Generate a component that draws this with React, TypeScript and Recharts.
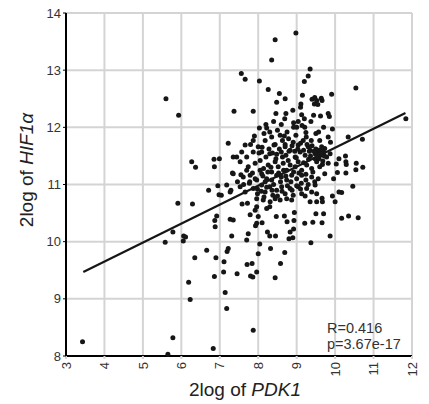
import React from 'react';
import {
  ScatterChart,
  Scatter,
  XAxis,
  YAxis,
  CartesianGrid,
  ReferenceLine,
  Customized,
} from 'recharts';

// x = 2log of PDK1, y = 2log of HIF1a
const pdk1Ticks = [3, 4, 5, 6, 7, 8, 9, 10, 11, 12];
const hif1aTicks = [8, 9, 10, 11, 12, 13, 14];

// sparse samples around the edges of the cloud
const outerSamples: [number, number][] = [
  [3.43, 8.25], [5.65, 8.03], [5.78, 8.32], [6.83, 8.13], [7.87, 8.45],
  [5.6, 12.5], [5.93, 12.21], [5.91, 10.67], [5.58, 9.99], [5.78, 10.17],
  [6.06, 10.1], [6.11, 10.08], [6.05, 10.01],
  [6.27, 11.4], [6.37, 11.3], [6.29, 10.66], [6.35, 9.72], [6.19, 9.29], [6.23, 8.99], [6.66, 9.85], [6.71, 10.9],
  [6.85, 11.44], [6.86, 11.31], [6.99, 11.45], [6.95, 10.98], [7.04, 10.81], [6.98, 10.82],
  [6.88, 10.26], [6.87, 10.37], [6.92, 10.45], [6.9, 9.72], [6.86, 9.39], [7.1, 9.47], [7.14, 9.11], [7.18, 8.83],
  [7.19, 9.83], [7.22, 9.88], [7.11, 9.65], [7.27, 10.39], [7.22, 11.72], [7.37, 12.28], [7.33, 11.2], [7.29, 10.9],
  [7.56, 12.94], [7.66, 12.84], [7.87, 12.28], [8.03, 12.81], [8.26, 12.66], [8.35, 13.18], [8.44, 13.53],
  [8.98, 13.65], [9.35, 13.02], [9.3, 12.9], [9.2, 12.8],
  [10.54, 12.69], [9.91, 12.58], [11.84, 12.15], [10.71, 11.79], [10.72, 11.3], [10.55, 11.37], [10.54, 11.26],
  [10.34, 11.83], [10.6, 10.42], [10.35, 10.45], [10.17, 10.41], [10.46, 10.97], [10.1, 10.87], [10.17, 10.86],
  [10.0, 10.7], [9.93, 10.8], [9.87, 10.1], [10.28, 11.2], [10.06, 11.21], [9.96, 11.1], [10.27, 11.5],
  [10.28, 11.4], [10.29, 11.35], [10.1, 11.45], [10.03, 11.36],
  [9.37, 9.98], [9.66, 10.33], [9.7, 10.49], [9.5, 10.49], [9.42, 10.34], [9.21, 10.32], [9.35, 10.7],
  [9.52, 10.7], [9.67, 10.7], [9.66, 10.76],
  [8.75, 10.35], [8.83, 10.17], [8.8, 10.05], [8.9, 10.07], [8.92, 10.22], [8.93, 10.37], [8.94, 10.51],
  [8.68, 10.45], [8.47, 10.44], [8.3, 10.1], [8.24, 10.17], [8.45, 10.1], [8.04, 9.96], [8.32, 9.88],
  [8.0, 9.79], [7.71, 9.6], [7.84, 9.62], [7.8, 9.4], [7.86, 9.38], [7.96, 9.47], [7.45, 9.44], [8.44, 9.37],
  [8.58, 9.62], [8.69, 9.81], [7.7, 10.03], [7.74, 10.14], [7.96, 10.32], [7.93, 10.28], [8.1, 10.33],
  [8.0, 10.44], [7.92, 10.55], [7.79, 10.47], [7.72, 10.67], [7.58, 10.66], [7.31, 10.1], [7.35, 10.38],
];

// dense core of the cloud
const coreSamples: [number, number][] = [
  [8.03, 11.99], [8.2, 12.05], [8.22, 11.99], [8.69, 12.15], [8.72, 12.24], [8.46, 12.24], [8.48, 12.44],
  [8.55, 12.59], [8.7, 12.5], [9.11, 12.41], [9.15, 12.56], [9.13, 12.22], [8.92, 12.08], [9.04, 12.1],
  [9.37, 12.1], [9.44, 12.21], [9.4, 12.49], [9.47, 12.52], [9.52, 12.47], [9.64, 12.51], [9.66, 12.47],
  [9.55, 12.4], [9.46, 12.41], [9.62, 12.2], [9.82, 12.24], [9.85, 12.19], [9.93, 11.97], [9.7, 12.0],
  [9.57, 11.92], [9.24, 11.91], [9.21, 12.0], [9.14, 12.03], [8.92, 12.0],
  [7.87, 11.77], [8.0, 11.66], [8.15, 11.89], [8.18, 11.77], [8.35, 11.83], [8.41, 11.69], [8.57, 11.86],
  [8.63, 11.77], [8.7, 11.66], [8.79, 11.8], [8.91, 11.74], [8.98, 11.86], [9.04, 11.69], [9.17, 11.77],
  [9.25, 11.83], [9.3, 11.66], [9.38, 11.77], [9.5, 11.89], [9.6, 11.77], [9.82, 11.83], [9.88, 11.74],
  [9.73, 11.63], [9.65, 11.66], [7.66, 11.69], [7.35, 11.48], [7.44, 11.48], [7.57, 11.57], [7.7, 11.48],
  [7.87, 11.57], [8.09, 11.57], [8.3, 11.54], [8.48, 11.53], [8.6, 11.57], [8.72, 11.51], [8.83, 11.6],
  [8.96, 11.48], [9.09, 11.57], [9.22, 11.51], [9.35, 11.6], [9.48, 11.54], [9.56, 11.6], [9.62, 11.51],
  [9.7, 11.57], [9.78, 11.48], [9.87, 11.54],
  [7.53, 11.4], [7.74, 11.31], [7.92, 11.37], [8.05, 11.42], [8.14, 11.28], [8.26, 11.34], [8.35, 11.22],
  [8.44, 11.4], [8.52, 11.31], [8.65, 11.37], [8.74, 11.25], [8.83, 11.34], [8.96, 11.31], [9.04, 11.4],
  [9.13, 11.25], [9.26, 11.34], [9.39, 11.28], [9.52, 11.4], [9.6, 11.31], [9.48, 11.45], [9.31, 11.44],
  [9.68, 11.41], [9.82, 11.37], [7.35, 11.19], [7.46, 11.05], [7.61, 11.13], [7.79, 11.16], [7.96, 11.08],
  [8.09, 11.19], [8.22, 11.1], [8.35, 11.08], [8.48, 11.16], [8.6, 11.13], [8.74, 11.08], [8.87, 11.16],
  [9.0, 11.1], [9.13, 11.16], [9.24, 11.08], [9.39, 11.13], [9.56, 11.1], [9.73, 11.19],
  [7.18, 10.99], [7.27, 10.87], [7.53, 10.96], [7.66, 10.87], [7.77, 11.02], [7.87, 10.93], [7.98, 10.84],
  [8.09, 10.99], [8.18, 10.87], [8.3, 10.96], [8.38, 10.81], [8.48, 10.9], [8.61, 10.96], [8.7, 10.84],
  [8.83, 10.93], [8.91, 10.81], [9.04, 10.96], [9.13, 10.84], [9.26, 10.93], [9.39, 10.87], [9.48, 10.99],
  [9.52, 10.84], [7.96, 10.75], [8.13, 10.73], [8.31, 10.7], [8.44, 10.75], [8.57, 10.73], [8.74, 10.75],
  [8.87, 10.73], [8.22, 10.58], [8.3, 10.61], [7.96, 10.61],
  [8.05, 11.25], [8.12, 11.15], [8.18, 11.05], [8.25, 11.22], [8.33, 11.3], [8.4, 11.0], [8.46, 11.45],
  [8.53, 11.2], [8.58, 11.05], [8.66, 11.25], [8.72, 11.15], [8.78, 11.42], [8.85, 11.05], [8.92, 11.22],
  [8.99, 11.47], [9.06, 11.2], [9.12, 11.02], [9.18, 11.38], [9.24, 11.18], [9.3, 11.0], [9.36, 11.5],
  [9.42, 11.22], [9.47, 11.05], [9.53, 11.55], [9.58, 11.45], [9.63, 11.6], [9.67, 11.35], [9.72, 11.5],
  [9.6, 11.53], [9.55, 11.48], [9.5, 11.62], [9.45, 11.58], [7.85, 11.2], [7.92, 11.1], [7.78, 11.05],
  [7.7, 11.25], [7.62, 11.0], [7.55, 11.17], [7.98, 10.92], [8.08, 10.88], [8.15, 10.78], [8.22, 10.95],
  [8.36, 10.9], [8.5, 10.8], [8.62, 10.88], [8.76, 10.98], [8.88, 10.9], [9.0, 10.98], [9.1, 10.92],
  [9.22, 10.8], [8.02, 11.55], [8.1, 11.65], [8.2, 11.48], [8.28, 11.62], [8.37, 11.55], [8.44, 11.7],
  [8.55, 11.62], [8.63, 11.48], [8.7, 11.7], [8.8, 11.58], [8.88, 11.68], [8.95, 11.58], [9.03, 11.62],
  [9.1, 11.72], [9.18, 11.6], [9.27, 11.7], [9.33, 11.58], [9.4, 11.68], [8.6, 12.05], [8.5, 11.95],
  [8.4, 12.1], [8.3, 11.92], [9.0, 12.0], [9.2, 12.15], [8.75, 11.92], [8.68, 11.85], [7.8, 11.7],
  [7.9, 11.85], [8.9, 12.3], [9.1, 12.35],
];

// regression line end points
const fitLine = [
  { x: 3.45, y: 9.47 },
  { x: 11.83, y: 12.25 },
];

const stats = ['R=0.416', 'p=3.67e-17'];

const FONT = '"Liberation Sans", Arial, sans-serif';

const samples = [...outerSamples, ...coreSamples].map(([x, y]) => ({ x, y }));

const Dot = (props: any) => <circle cx={props.cx} cy={props.cy} r={2.5} fill="#161616" />;

const XTick = ({ x, y, payload }: any) => (
  <text
    x={x}
    y={y + 1}
    transform={`rotate(-90 ${x} ${y + 1})`}
    textAnchor="end"
    dy="0.36em"
    fontSize={13}
    fontFamily={FONT}
    fill="#333"
  >
    {payload.value}
  </text>
);

const XTitle = () => (
  <text x={245} y={396} textAnchor="middle" fontSize={19} fontFamily={FONT} fill="#222">
    2log of <tspan fontStyle="italic">PDK1</tspan>
  </text>
);

const YTitle = () => (
  <text
    x={33}
    y={170}
    transform="rotate(-90 33 170)"
    textAnchor="middle"
    fontSize={19}
    fontFamily={FONT}
    fill="#222"
  >
    2log of <tspan fontStyle="italic">HIF1α</tspan>
  </text>
);

const Stats = () => (
  <g>
    {stats.map((s, i) => (
      <text key={s} x={327} y={333 + i * 16} fontSize={14.5} fontFamily={FONT} fill="#333">
        {s}
      </text>
    ))}
  </g>
);

export default function App() {
  return (
    <div style={{ position: 'absolute', left: 0, top: 0 }}>
      <ScatterChart width={429} height={404} margin={{ top: 13, right: 17, bottom: 18, left: 36 }}>
        <CartesianGrid stroke="#d4d4d4" strokeWidth={2} />
        <XAxis
          type="number"
          dataKey="x"
          domain={[3, 12]}
          ticks={pdk1Ticks}
          interval={0}
          height={30}
          axisLine={{ stroke: '#000', strokeWidth: 2 }}
          tickLine={{ stroke: '#d4d4d4', strokeWidth: 2 }}
          tickSize={3}
          tick={<XTick />}
        />
        <YAxis
          type="number"
          dataKey="y"
          domain={[8, 14]}
          ticks={hif1aTicks}
          interval={0}
          width={30}
          axisLine={{ stroke: '#000', strokeWidth: 2 }}
          tickLine={{ stroke: '#000' }}
          tickSize={3}
          tick={{ fontSize: 13, fontFamily: FONT, fill: '#333' }}
        />
        <Scatter data={samples} shape={<Dot />} isAnimationActive={false} />
        <ReferenceLine segment={fitLine} stroke="#161616" strokeWidth={2.2} ifOverflow="visible" />
        <Customized component={<XTitle />} />
        <Customized component={<YTitle />} />
        <Customized component={<Stats />} />
      </ScatterChart>
    </div>
  );
}
